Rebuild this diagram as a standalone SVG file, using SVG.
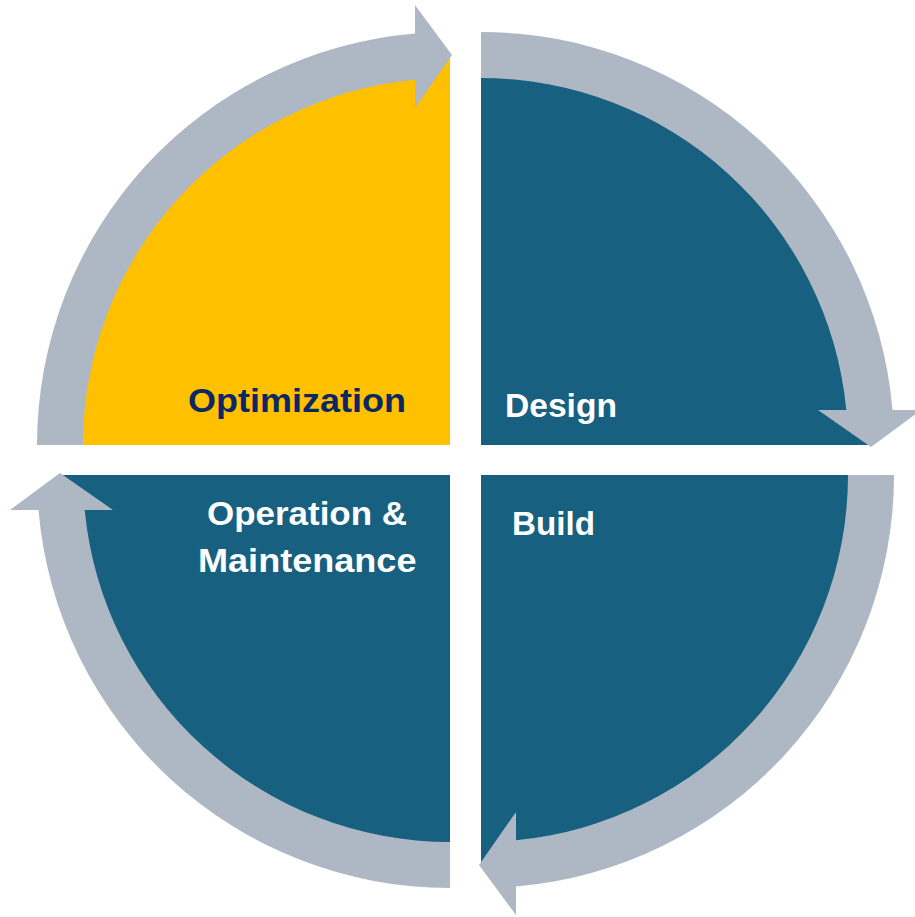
<svg xmlns="http://www.w3.org/2000/svg" xmlns:xlink="http://www.w3.org/1999/xlink" width="915" height="917" viewBox="0 0 915 917">
  <style>
    .blue { fill: #17607F; }
    .yellow { fill: #FFC000; }
    .arrow { fill: #ADB8C4; }
    .lbl { font-family: "Liberation Sans", Arial, sans-serif; font-weight: bold; font-size: 33.5px; }
    .white { fill: #FFFFFF; }
    .navy { fill: #0B2862; }
  </style>
  <defs>
    <path id="quad" d="M 0 0 L -390 0 A 390 390 0 0 1 0 -390 Z"/>
    <path id="arc" d="M -413 0 A 413 413 0 0 1 -35 -411.5 L -35 -440 L 2 -390 L -35 -337 L -35 -365.3 A 367 367 0 0 0 -367 0 Z"/>
  </defs>
  <rect width="915" height="917" fill="#FFFFFF"/>

  <g id="optimization">
    <use xlink:href="#quad" href="#quad" class="yellow" transform="translate(450,445)"/>
  </g>
  <g id="design">
    <use xlink:href="#quad" href="#quad" class="blue" transform="translate(481,445) rotate(90)"/>
  </g>
  <g id="build">
    <use xlink:href="#quad" href="#quad" class="blue" transform="translate(481,475) rotate(180)"/>
  </g>
  <g id="operation">
    <use xlink:href="#quad" href="#quad" class="blue" transform="translate(450,475) rotate(270)"/>
  </g>

  <g id="connectors">
    <use xlink:href="#arc" href="#arc" class="arrow" transform="translate(450,445)"/>
    <use xlink:href="#arc" href="#arc" class="arrow" transform="translate(481,445) rotate(90)"/>
    <use xlink:href="#arc" href="#arc" class="arrow" transform="translate(481,475) rotate(180)"/>
    <use xlink:href="#arc" href="#arc" class="arrow" transform="translate(450,475) rotate(270)"/>
  </g>

  <g id="labels">
    <text class="lbl navy" x="188" y="412" textLength="218" lengthAdjust="spacingAndGlyphs">Optimization</text>
    <text class="lbl white" x="505" y="416.5" textLength="112" lengthAdjust="spacingAndGlyphs">Design</text>
    <text class="lbl white" x="512" y="535" textLength="83" lengthAdjust="spacingAndGlyphs">Build</text>
    <text class="lbl white" x="207" y="525" textLength="200" lengthAdjust="spacingAndGlyphs">Operation &amp;</text>
    <text class="lbl white" x="198" y="571.5" textLength="218.5" lengthAdjust="spacingAndGlyphs">Maintenance</text>
  </g>
</svg>
